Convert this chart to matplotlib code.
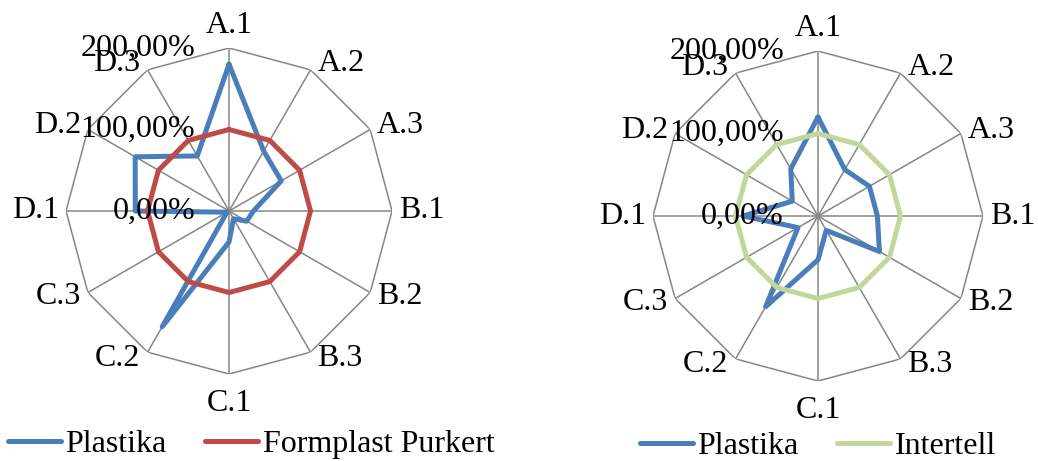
import matplotlib.pyplot as plt
import matplotlib.transforms as mtransforms
import numpy as np

categories = ['A.1', 'A.2', 'A.3', 'B.1', 'B.2', 'B.3',
              'C.1', 'C.2', 'C.3', 'D.1', 'D.2', 'D.3']

# values in percent
plastika_left = [180, 85, 74, 30, 25, 11, 38, 164, 3, 115, 133, 78]
formplast = [100, 100, 100, 100, 100, 100, 100, 100, 100, 100, 100, 100]

plastika_right = [120, 65, 72, 72, 86, 20, 53, 127, 28, 91, 36, 66]
intertell = [100, 100, 100, 100, 100, 100, 100, 100, 100, 100, 100, 100]

r_ticks = [0, 100, 200]
r_tick_labels = ['0,00%', '100,00%', '200,00%']

BLUE = '#4A7EBB'
RED = '#BE4B48'
GREEN = '#C3D69B'
GRID = '#868686'

plt.rcParams['font.family'] = ['Liberation Serif', 'DejaVu Serif']
FS = 23
PX = 72.0 / 100  # points per pixel at dpi 100


def closed(values):
    return list(values) + [values[0]]


def radar(fig, rect, series, names, colors):
    ax = fig.add_axes(rect, projection='polar')
    theta = np.linspace(0, 2 * np.pi, len(categories), endpoint=False)
    th = closed(list(theta))

    ax.set_theta_zero_location('N')
    ax.set_theta_direction(-1)
    ax.set_ylim(0, r_ticks[-1])
    ax.spines['polar'].set_visible(False)
    ax.set_yticks([])
    ax.yaxis.grid(False)
    ax.set_xticks(theta)
    ax.set_xticklabels([])
    ax.xaxis.grid(True, color=GRID, lw=1.1)
    ax.set_facecolor('none')

    # outer polygon
    ax.plot(th, [r_ticks[-1]] * len(th), color=GRID, lw=1.1, zorder=1)

    for vals, name, col in zip(series, names, colors):
        ax.plot(th, closed(vals), color=col, lw=3.6, label=name,
                solid_joinstyle='round', solid_capstyle='round', zorder=3)

    # category labels around the outside
    for t, lab in zip(theta, categories):
        s, c = np.sin(t), np.cos(t)
        if abs(s) < 1e-6:
            ha = 'center'
            va = 'baseline' if c > 0 else 'top'
            dx, dy = 0, 15 * np.sign(c)
        else:
            ha = 'left' if s > 0 else 'right'
            va = 'center'
            dx, dy = 7 * np.sign(s), 7 * c
        tr = mtransforms.offset_copy(ax.transData, fig=fig, x=dx * PX, y=dy * PX,
                                     units='points')
        ax.text(t, r_ticks[-1], lab, transform=tr, ha=ha, va=va, fontsize=FS,
                clip_on=False)

    # radial value labels to the left of the vertical axis
    for rv, lab in zip(r_ticks, r_tick_labels):
        tr = mtransforms.offset_copy(ax.transData, fig=fig, x=-34 * PX, y=0,
                                     units='points')
        ax.text(0, rv, lab, transform=tr, ha='right', va='center', fontsize=FS,
                clip_on=False, zorder=5)
    return ax


fig = plt.figure(figsize=(10.38, 4.61), dpi=100)

ax1 = radar(fig, [0.0636, 0.1887, 0.3141, 0.7072],
            [plastika_left, formplast], ['Plastika', 'Formplast Purkert'], [BLUE, RED])
ax2 = radar(fig, [0.6291, 0.1735, 0.3179, 0.7158],
            [plastika_right, intertell], ['Plastika', 'Intertell'], [BLUE, GREEN])

for ax, x0, y0 in [(ax1, 8, 444), (ax2, 640, 446)]:
    ax.legend(loc='center left', bbox_to_anchor=(x0 / 1038, 1 - y0 / 461),
              bbox_transform=fig.transFigure, ncol=2, frameon=False,
              fontsize=23, handlelength=1.65, handletextpad=0.15,
              columnspacing=1.2, borderpad=0, borderaxespad=0)

fig.savefig('out.png', dpi=100)
